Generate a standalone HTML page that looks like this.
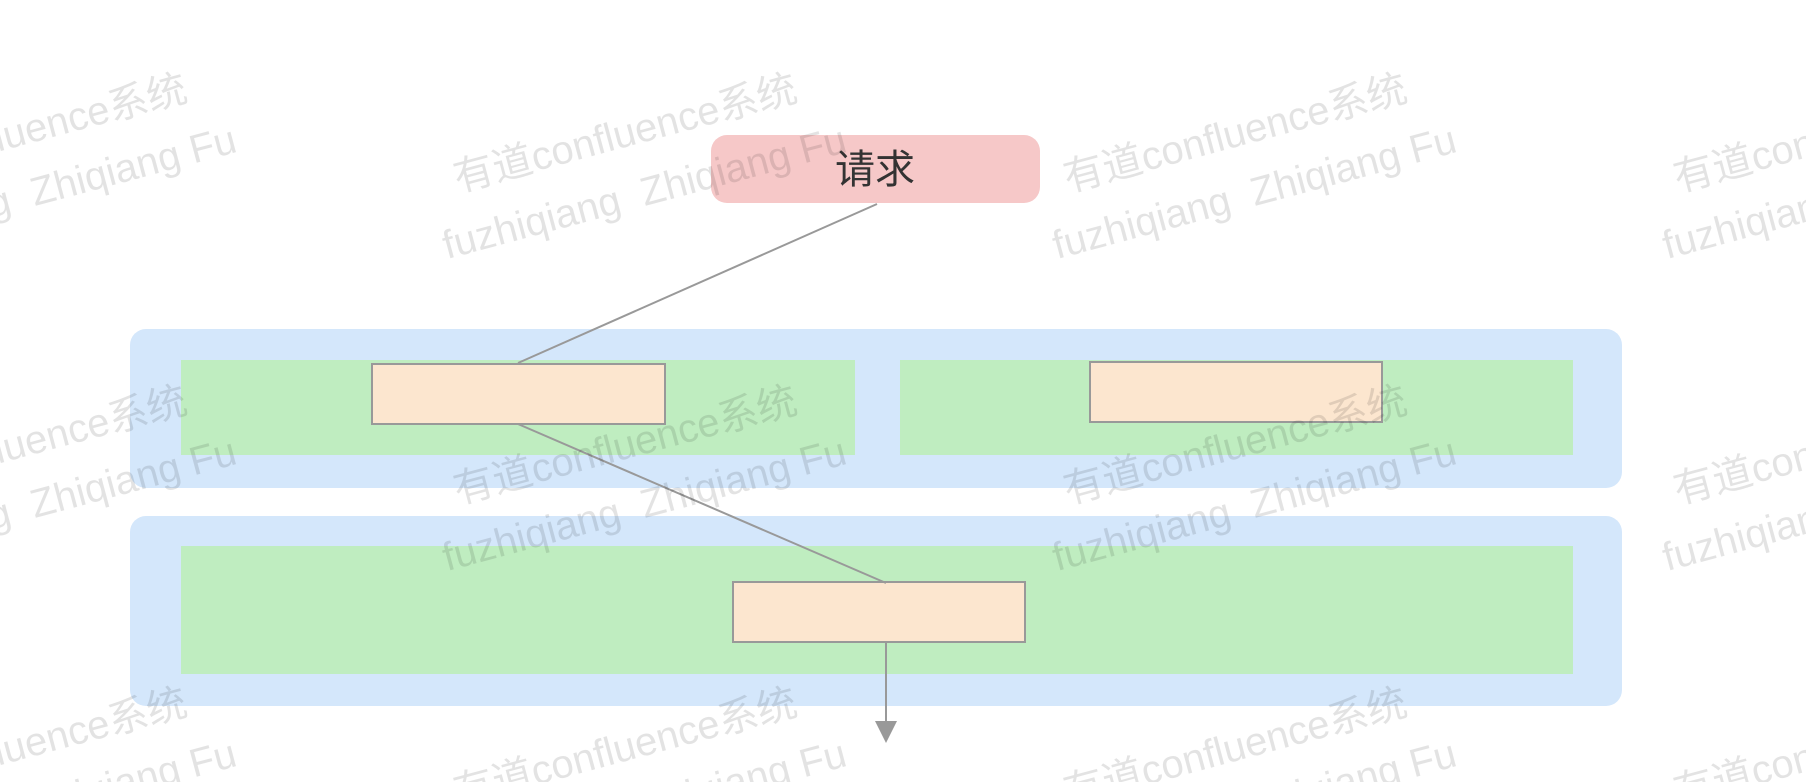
<!DOCTYPE html>
<html><head><meta charset="utf-8"><style>
html,body{margin:0;padding:0;background:#fff;width:1806px;height:782px;overflow:hidden;}
svg{display:block;}
.w{font-family:"Liberation Sans","Noto Sans CJK SC",sans-serif;font-size:40px;fill:rgba(0,0,0,0.11);}
</style></head><body>
<svg width="1806" height="782" viewBox="0 0 1806 782" xmlns="http://www.w3.org/2000/svg">
<rect width="1806" height="782" fill="#fff"/>
<rect x="711" y="135" width="329" height="68" rx="16" fill="#f6c8c8"/>
<text x="875" y="183" text-anchor="middle" font-family="Liberation Sans,Noto Sans CJK SC,sans-serif" font-size="40" fill="#333">请求</text>
<rect x="130" y="329" width="1492" height="159" rx="16" fill="#d4e7fb"/>
<rect x="181" y="360" width="674" height="95" fill="#bfedc0"/>
<rect x="900" y="360" width="673" height="95" fill="#bfedc0"/>
<rect x="130" y="516" width="1492" height="190" rx="16" fill="#d4e7fb"/>
<rect x="181" y="546" width="1392" height="128" fill="#bfedc0"/>
<rect x="372" y="364" width="293" height="60" fill="#fce6cf" stroke="#999" stroke-width="2"/>
<rect x="1090" y="362" width="292" height="60" fill="#fce6cf" stroke="#999" stroke-width="2"/>
<rect x="733" y="582" width="292" height="60" fill="#fce6cf" stroke="#999" stroke-width="2"/>
<g stroke="#999" stroke-width="2" fill="none">
<line x1="877" y1="204" x2="518" y2="363"/>
<line x1="518" y1="424" x2="886" y2="583"/>
<line x1="886" y1="642" x2="886" y2="724"/>
</g>
<polygon points="875,721 897,721 886,743" fill="#999"/>
<g class="w">
<g transform="translate(-152,192) rotate(-15)"><text x="0" y="0">有道confluence系统</text><text x="-28" y="62" xml:space="preserve">fuzhiqiang  Zhiqiang Fu</text></g>
<g transform="translate(458,192) rotate(-15)"><text x="0" y="0">有道confluence系统</text><text x="-28" y="62" xml:space="preserve">fuzhiqiang  Zhiqiang Fu</text></g>
<g transform="translate(1068,192) rotate(-15)"><text x="0" y="0">有道confluence系统</text><text x="-28" y="62" xml:space="preserve">fuzhiqiang  Zhiqiang Fu</text></g>
<g transform="translate(1678,192) rotate(-15)"><text x="0" y="0">有道confluence系统</text><text x="-28" y="62" xml:space="preserve">fuzhiqiang  Zhiqiang Fu</text></g>
<g transform="translate(-152,504) rotate(-15)"><text x="0" y="0">有道confluence系统</text><text x="-28" y="62" xml:space="preserve">fuzhiqiang  Zhiqiang Fu</text></g>
<g transform="translate(458,504) rotate(-15)"><text x="0" y="0">有道confluence系统</text><text x="-28" y="62" xml:space="preserve">fuzhiqiang  Zhiqiang Fu</text></g>
<g transform="translate(1068,504) rotate(-15)"><text x="0" y="0">有道confluence系统</text><text x="-28" y="62" xml:space="preserve">fuzhiqiang  Zhiqiang Fu</text></g>
<g transform="translate(1678,504) rotate(-15)"><text x="0" y="0">有道confluence系统</text><text x="-28" y="62" xml:space="preserve">fuzhiqiang  Zhiqiang Fu</text></g>
<g transform="translate(-152,806) rotate(-15)"><text x="0" y="0">有道confluence系统</text><text x="-28" y="62" xml:space="preserve">fuzhiqiang  Zhiqiang Fu</text></g>
<g transform="translate(458,806) rotate(-15)"><text x="0" y="0">有道confluence系统</text><text x="-28" y="62" xml:space="preserve">fuzhiqiang  Zhiqiang Fu</text></g>
<g transform="translate(1068,806) rotate(-15)"><text x="0" y="0">有道confluence系统</text><text x="-28" y="62" xml:space="preserve">fuzhiqiang  Zhiqiang Fu</text></g>
<g transform="translate(1678,806) rotate(-15)"><text x="0" y="0">有道confluence系统</text><text x="-28" y="62" xml:space="preserve">fuzhiqiang  Zhiqiang Fu</text></g>
</g>
</svg>
</body></html>
